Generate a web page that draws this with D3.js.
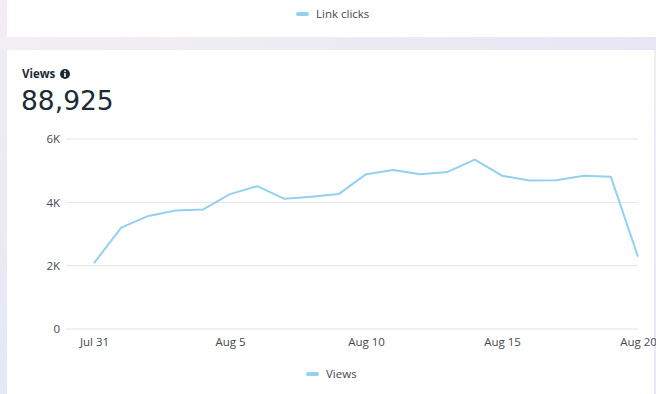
<!DOCTYPE html>
<html><head><meta charset="utf-8">
<script src="https://cdn.jsdelivr.net/npm/d3@7"></script>
<style>
html,body{margin:0;padding:0;background:#fff;}
svg{display:block;font-family:"Open Sans","Noto Sans",sans-serif;}
</style></head>
<body>
<svg id="c" width="656" height="394"></svg>
<script>
const dates = ["2023-07-31","2023-08-01","2023-08-02","2023-08-03","2023-08-04","2023-08-05","2023-08-06","2023-08-07","2023-08-08","2023-08-09","2023-08-10","2023-08-11","2023-08-12","2023-08-13","2023-08-14","2023-08-15","2023-08-16","2023-08-17","2023-08-18","2023-08-19","2023-08-20"];
const views = [2080,3200,3570,3740,3770,4260,4510,4110,4180,4260,4890,5020,4890,4960,5350,4840,4690,4700,4840,4810,2280];
const yTicks = [0,2000,4000,6000];
const xTickDates = ["2023-07-31","2023-08-05","2023-08-10","2023-08-15","2023-08-20"];
const title = "Views";
const total = "88,925";
const seriesName = "Views";
const topLegend = "Link clicks";

const lineColor = "#93d0f1";
const svg = d3.select("#c");
const parse = d3.utcParse("%Y-%m-%d");
const data = dates.map((d,i)=>({date:parse(d), v:views[i]}));

// background
const defs = svg.append("defs");
const g1 = defs.append("linearGradient").attr("id","band").attr("x1","0").attr("x2","1");
g1.append("stop").attr("offset","0").attr("stop-color","#f4eff3");
g1.append("stop").attr("offset","1").attr("stop-color","#e8e6f5");
const g2 = defs.append("linearGradient").attr("id","side").attr("x1","0").attr("x2","0").attr("y1","0").attr("y2","1");
g2.append("stop").attr("offset","0").attr("stop-color","#f2edf3");
g2.append("stop").attr("offset","1").attr("stop-color","#e5e8f6");
svg.append("rect").attr("x",0).attr("y",0).attr("width",656).attr("height",394).attr("fill","url(#side)");
svg.append("rect").attr("x",0).attr("y",37).attr("width",656).attr("height",13).attr("fill","url(#band)");
svg.append("rect").attr("x",7).attr("y",0).attr("width",649).attr("height",37).attr("fill","#fff");
svg.append("rect").attr("x",7).attr("y",50).attr("width",647).attr("height",344).attr("fill","#fff");

// top legend
svg.append("rect").attr("x",296).attr("y",12).attr("width",13).attr("height",4).attr("rx",2).attr("fill",lineColor);
svg.append("text").attr("x",316).attr("y",18).attr("font-size",11.5).attr("fill","#444950").text(topLegend);

// title
svg.append("text").attr("x",22).attr("y",78).attr("font-size",11.5).attr("font-weight",700).attr("fill","#1c2b33").text(title);
svg.append("circle").attr("cx",65).attr("cy",74).attr("r",5).attr("fill","#1c2b33");
svg.append("rect").attr("x",64.2).attr("y",73).attr("width",1.6).attr("height",4).attr("fill","#fff");
svg.append("circle").attr("cx",65).attr("cy",71.3).attr("r",0.9).attr("fill","#fff");
svg.append("text").attr("x",21).attr("y",109.5).attr("font-size",26.5).attr("font-family","'DejaVu Sans',sans-serif").attr("fill","#1c2b33").text(total);

// scales
const x = d3.scaleUtc().domain([parse(dates[0]), parse(dates[dates.length-1])]).range([94,638]);
const y = d3.scaleLinear().domain([0,6000]).range([329,139]);

// grid
svg.append("g").selectAll("line").data(yTicks).join("line")
  .attr("x1",66).attr("x2",638).attr("y1",d=>y(d)).attr("y2",d=>y(d))
  .attr("stroke","#e4e4e4").attr("stroke-width",1);

const yAxis = d3.axisLeft(y).tickValues(yTicks).tickSize(0).tickPadding(0)
  .tickFormat(d=> d===0 ? "0" : (d/1000)+"K");
const ya = svg.append("g").attr("transform","translate(60,0)").call(yAxis);
ya.select(".domain").remove();
ya.selectAll("text").attr("font-size",11.5).attr("fill","#444950").attr("font-family","'Open Sans',sans-serif");

const fmt = d3.utcFormat("%b %-d");
const xAxis = d3.axisBottom(x).tickValues(xTickDates.map(parse)).tickSize(0).tickPadding(0).tickFormat(fmt);
const xa = svg.append("g").attr("transform","translate(0,338)").call(xAxis);
xa.select(".domain").remove();
xa.selectAll("text").attr("font-size",11.5).attr("fill","#444950").attr("font-family","'Open Sans',sans-serif");

// line
const line = d3.line().x(d=>x(d.date)).y(d=>y(d.v));
svg.append("path").datum(data).attr("d",line).attr("fill","none")
  .attr("stroke",lineColor).attr("stroke-width",2).attr("stroke-linejoin","round");

// bottom legend
svg.append("rect").attr("x",306).attr("y",372).attr("width",13).attr("height",4).attr("rx",2).attr("fill",lineColor);
svg.append("text").attr("x",326).attr("y",378).attr("font-size",11.5).attr("fill","#444950").text(seriesName);
</script>
</body></html>
